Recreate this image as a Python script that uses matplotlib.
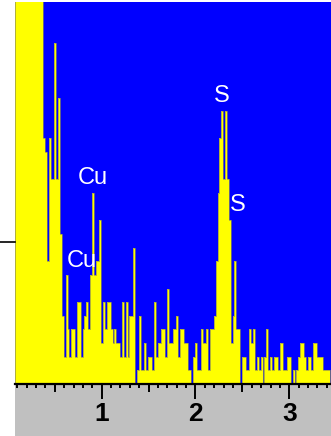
import numpy as np
import matplotlib.pyplot as plt
from matplotlib.patches import Rectangle
from matplotlib.lines import Line2D

# spectrum: 20 eV channels starting at 0.076 keV, counts per channel
e_start = 0.076
e_width = 0.02
counts = [310, 260, 215, 180, 150, 125, 105, 90, 76, 64, 55, 47, 40, 35, 31,
          18, 17, 9, 18, 15, 15, 25, 15, 21, 11, 5, 2, 8, 4, 2,
          4, 4, 2, 6, 6, 2, 4, 5, 6, 4, 8, 14, 8, 9, 9,
          12, 3, 6, 4, 6, 6, 4, 3, 4, 3, 3, 2, 6, 2, 6,
          2, 5, 5, 10, 0, 1, 5, 1, 1, 3, 1, 2, 2, 1, 6,
          2, 3, 3, 4, 4, 2, 7, 3, 3, 4, 4, 5, 2, 4, 4,
          3, 3, 1, 1, 0, 2, 3, 1, 1, 4, 3, 3, 4, 1, 4,
          4, 5, 9, 14, 18, 20, 15, 20, 15, 12, 3, 5, 9, 4, 4,
          0, 2, 2, 1, 1, 4, 3, 4, 1, 2, 1, 2, 0, 2, 4,
          1, 2, 1, 2, 2, 1, 3, 3, 1, 1, 2, 2, 0, 1, 0,
          1, 2, 3, 3, 2, 1, 2, 2, 1, 3, 3, 2, 2, 2, 1, 1, 1, 1]
tick_values = [1, 2, 3]
half_ticks = [0.5, 1.5, 2.5]
peak_labels = ['Cu', 'Cu', 'S', 'S']
label_energy = [0.907, 0.79, 2.28, 2.455]
label_counts = [15.1, 9.0, 21.1, 13.1]

W, H = 331, 436
fig = plt.figure(figsize=(W / 100, H / 100), dpi=100)
fig.patches.append(Rectangle((15 / W, 0), 316 / W, 52 / H, transform=fig.transFigure,
                             facecolor='#c0c0c0', edgecolor='none', zorder=-1))
ax = fig.add_axes([15 / W, 52 / H, 316 / W, 382 / H])
ax.set_facecolor('#0000ff')

edges = e_start + e_width * np.arange(len(counts) + 1)
ax.stairs(counts, edges, fill=True, color='#ffff00', zorder=2)
ax.stairs(counts, edges, color='#8f8f55', lw=0.5, zorder=3)

for lab, e, c in zip(peak_labels, label_energy, label_counts):
    ax.text(e, c, lab, color='white', fontsize=17, ha='center', va='center',
            family='Liberation Sans', zorder=4)

ax.set_xlim(0.076, 3.445)
ax.set_ylim(0, 28)
ax.set_yticks([])
for s in ['left', 'right', 'top']:
    ax.spines[s].set_visible(False)
ax.spines['bottom'].set_linewidth(1.6)
ax.spines['bottom'].set_zorder(5)

ax.set_xticks(tick_values)
ax.set_xticklabels([str(v) for v in tick_values], fontsize=19, fontweight='bold',
                   family='Liberation Sans')
ax.set_xticks(np.arange(0.1, 3.45, 0.1), minor=True)
ax.tick_params(axis='x', which='major', length=11, width=1.4, pad=2)
ax.tick_params(axis='x', which='minor', length=3, width=1.4)
ax.vlines(half_ticks, -8 / 382, 0, transform=ax.get_xaxis_transform(),
          color='black', lw=1.4, clip_on=False)

fig.add_artist(Line2D([0, 15 / W], [194 / H, 194 / H], color='black', lw=1.2))

plt.savefig('out.png', dpi=100)
plt.close(fig)
